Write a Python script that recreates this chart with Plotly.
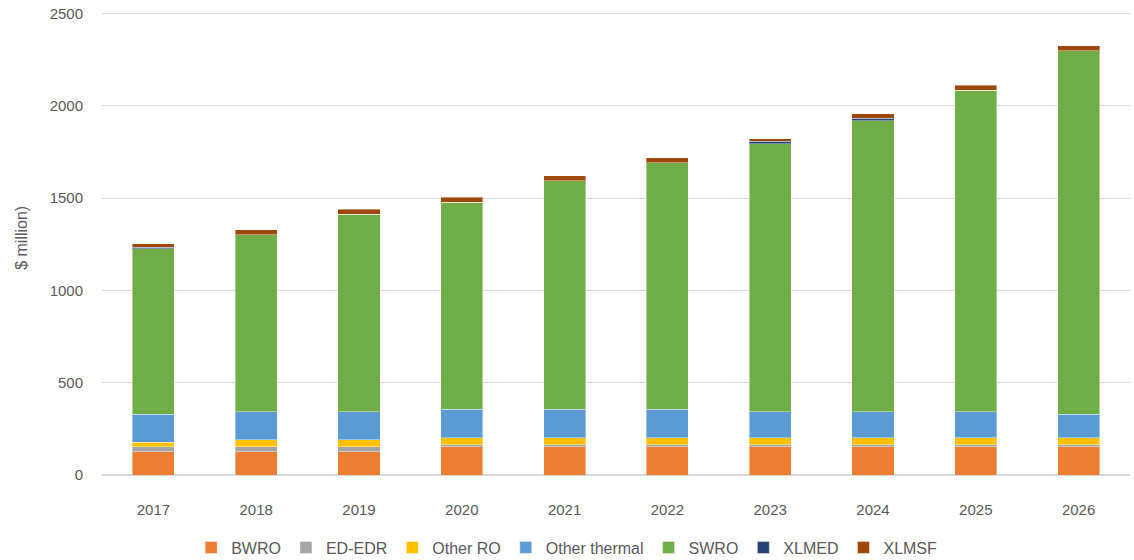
import plotly.graph_objects as go

years = ["2017", "2018", "2019", "2020", "2021", "2022", "2023", "2024", "2025", "2026"]
bwro = [127, 127, 127, 152, 152, 152, 152, 152, 152, 152]
ed_edr = [25, 25, 25, 13, 13, 13, 13, 13, 13, 13]
other_ro = [25, 38, 38, 38, 38, 38, 38, 38, 38, 38]
other_thermal = [151, 152, 152, 152, 152, 152, 139, 139, 139, 125]
swro = [897, 959, 1072, 1123, 1239, 1338, 1452, 1577, 1742, 1971]
xlmed = [10, 0, 0, 0, 0, 0, 15, 15, 0, 0]
xlmsf = [17, 27, 27, 27, 27, 27, 12, 25, 27, 27]

series = [
    ("BWRO", bwro, "#ED7D31"),
    ("ED-EDR", ed_edr, "#A5A5A5"),
    ("Other RO", other_ro, "#FFC000"),
    ("Other thermal", other_thermal, "#5B9BD5"),
    ("SWRO", swro, "#70AD47"),
    ("XLMED", xlmed, "#264478"),
    ("XLMSF", xlmsf, "#9E480E"),
]

fig = go.Figure()
for name, vals, col in series:
    fig.add_trace(go.Bar(
        x=years, y=vals, name=name,
        marker=dict(color=col, line=dict(color="rgba(255,255,255,0.4)", width=1)),
    ))

font_fam = "Liberation Sans Narrow, Liberation Sans, Arial, sans-serif"
fig.update_layout(
    barmode="stack",
    bargap=0.59,
    width=1134, height=560,
    paper_bgcolor="white", plot_bgcolor="white",
    margin=dict(l=102, r=4, t=10, b=85, autoexpand=False),
    font=dict(family=font_fam, color="#595959", size=15),
    showlegend=True,
    legend=dict(orientation="h", x=0.452, xanchor="center",
                y=-0.156, yanchor="middle",
                font=dict(size=16, color="#595959"), itemwidth=30, traceorder="normal"),
    xaxis=dict(showgrid=False, showline=True, linecolor="#D9D9D9", linewidth=1,
               ticks="", tickfont=dict(size=15), ticklabelstandoff=21, tickangle=0,
               automargin=False),
    yaxis=dict(range=[0, 2520], dtick=500, showgrid=True, gridcolor="#D9D9D9", gridwidth=1,
               zeroline=True, zerolinecolor="#D9D9D9", ticks="", tickfont=dict(size=15),
               ticklabelstandoff=18, automargin=False),
    annotations=[dict(text="$ million)", textangle=-90, xref="paper", yref="paper",
                      x=0, y=0.51, xshift=-80, xanchor="center", yanchor="middle",
                      showarrow=False, font=dict(size=16, color="#595959"))],
)

fig.write_html("out.html", config={"displayModeBar": False},
               post_script="document.body.style.margin='0px';")
